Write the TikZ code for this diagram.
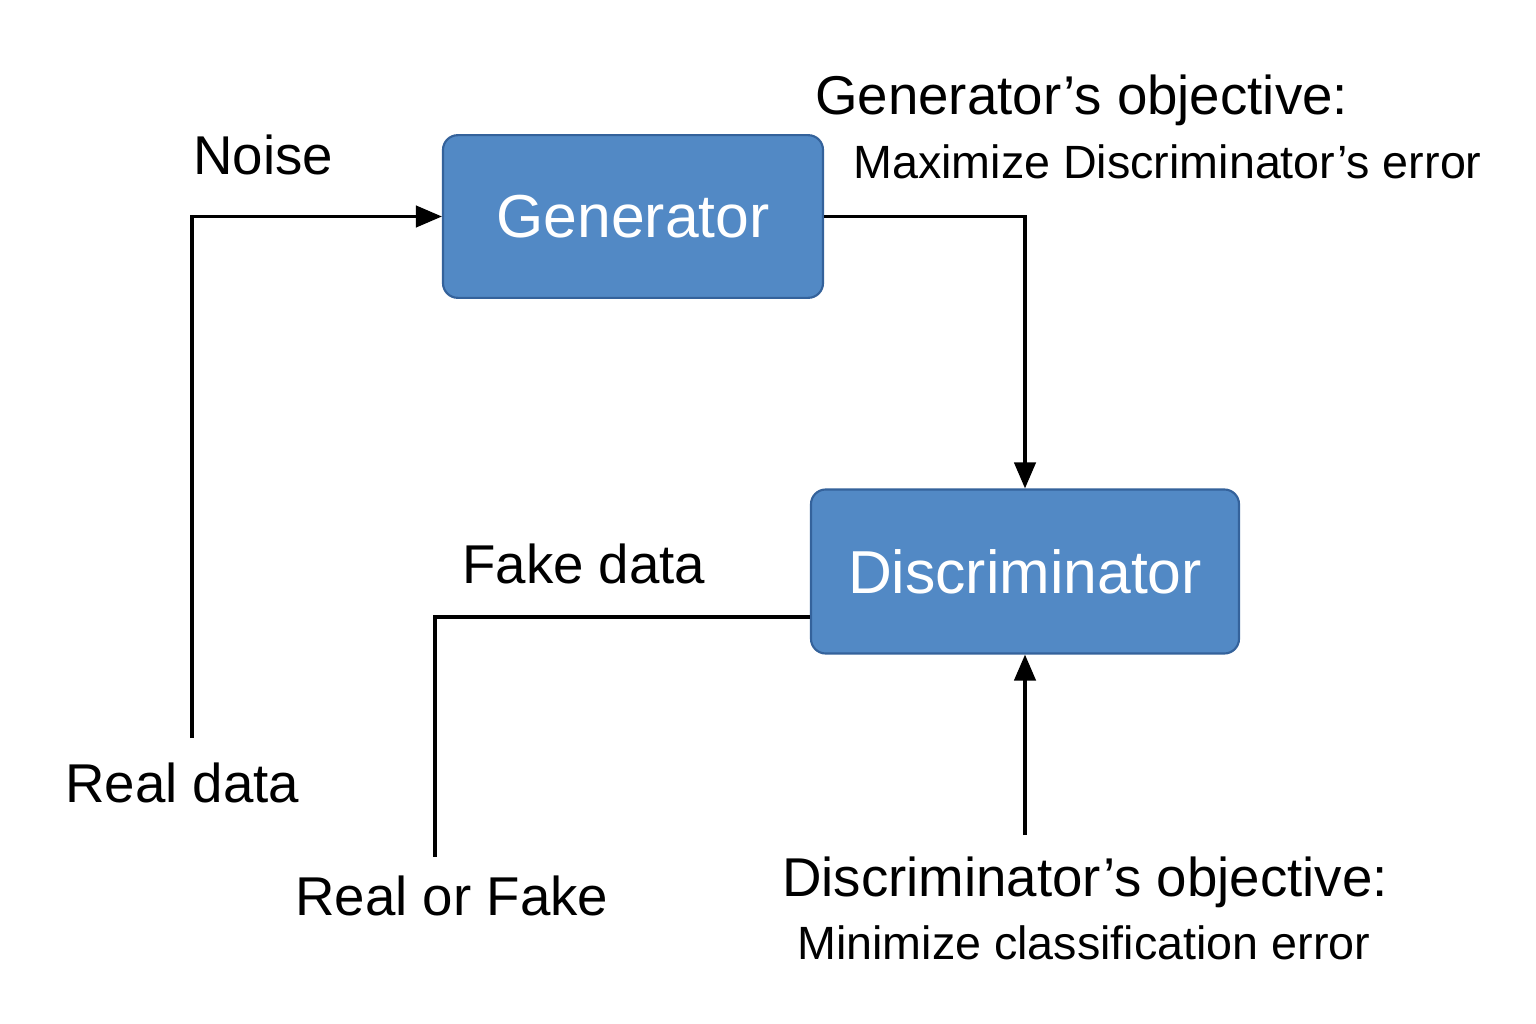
\documentclass[tikz,border=0pt]{standalone}
\usepackage{fontspec}
\setmainfont{Liberation Sans}
\usetikzlibrary{arrows.meta}
\definecolor{boxfill}{RGB}{82,137,197}
\definecolor{boxline}{RGB}{52,98,155}
\tikzset{
  blockbox/.style={draw=boxline, fill=boxfill, line width=1.6pt, rounded corners=11pt,
    text=white, font=\fontsize{45.5}{54}\selectfont, inner sep=0pt},
  biglabel/.style={anchor=base west, inner sep=0pt, font=\fontsize{41}{49}\selectfont},
  smalllabel/.style={anchor=base west, inner sep=0pt, font=\fontsize{35}{42}\selectfont},
  conn/.style={line width=2.5pt, black},
  arrowconn/.style={conn, -{Triangle[length=19.5pt,width=16pt]}},
}
\begin{document}
\begin{tikzpicture}[x=0.75pt,y=-0.75pt]
\useasboundingbox (0,0) rectangle (1536,1024);
\fill[white] (0,0) rectangle (1536,1024);

\node[blockbox, minimum width=285pt, minimum height=122pt] (gen) at (633,216.5) {Generator};
\node[blockbox, minimum width=321pt, minimum height=123pt] (disc) at (1025,571.5) {Discriminator};

\node[biglabel] (noise) at (193,175) {Noise};
\node[biglabel] (realdata) at (65,802) {Real data};
\node[biglabel] (fakedata) at (462,583) {Fake data};
\node[biglabel] (realfake) at (295,915) {Real or Fake};
\node[biglabel] (genobj) at (815,115) {Generator’s objective:};
\node[smalllabel] (genobj2) at (853,178) {Maximize Discriminator’s error};
\node[biglabel] (discobj) at (782,896) {Discriminator’s objective:};
\node[smalllabel] (discobj2) at (797,959) {Minimize classification error};

\coordinate (rdtop) at (192,738);
\coordinate (fkcorner) at (435,617);
\coordinate (rftop) at (435,857);
\coordinate (dobjtop) at (1025,835);

\draw[arrowconn] (rdtop) |- (gen.west);
\draw[arrowconn] (gen.east) -| (disc.north);
\draw[conn] (disc.west |- fkcorner) -- (fkcorner) -- (rftop);
\draw[arrowconn] (dobjtop) -- (disc.south);
\end{tikzpicture}
\end{document}
